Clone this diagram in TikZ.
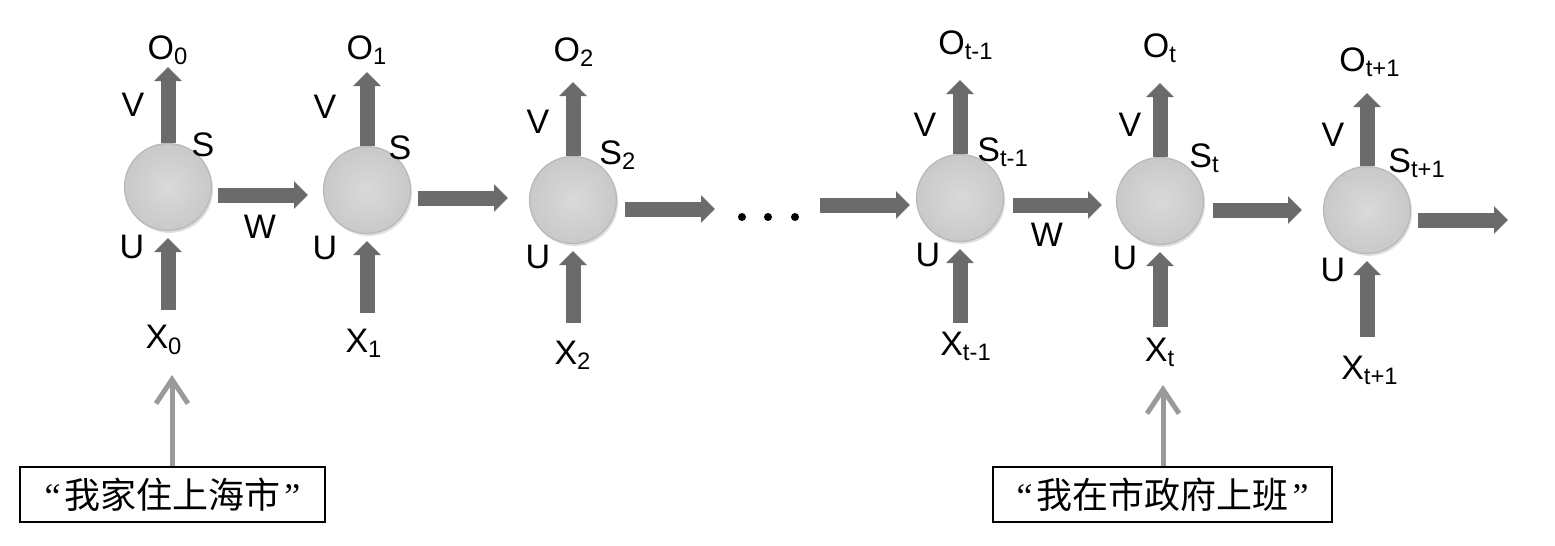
\documentclass[tikz,border=0pt]{standalone}
\usepackage{fontspec}
\setmainfont{Liberation Sans}
\newfontfamily\cjk{Noto Sans CJK SC}
\newfontfamily\serifq{Liberation Serif}
\usetikzlibrary{arrows.meta,shadows}
\definecolor{arrowgray}{HTML}{6B6B6B}
\definecolor{cellfill}{HTML}{C9C9C9}
\definecolor{celledge}{HTML}{B8B8B8}
\definecolor{thingray}{HTML}{9A9A9A}
\tikzset{
  cell/.style={circle, minimum size=43.5pt, inner sep=0pt, draw=celledge, line width=0.6pt,
    inner color=cellfill!70!white, outer color=cellfill,
    drop shadow={opacity=0.25, shadow xshift=0.8pt, shadow yshift=-1.2pt}},
  bigarrow/.style={line width=7.5pt, draw=arrowgray, -{Triangle[length=7pt,width=13.5pt]}},
  lab/.style={font=\fontsize{17}{19}\selectfont, inner sep=0pt},
  sentbox/.style={draw=black, line width=1.2pt, minimum width=152.5pt, minimum height=27.5pt, inner sep=0pt,
    font=\fontsize{18}{20}\selectfont},
  thinarrow/.style={line width=2.5pt, draw=thingray, -{Straight Barb[length=12pt,width=16pt,line width=2.5pt]}},
  dotmark/.style={circle, fill=black, minimum size=4pt, inner sep=0pt}
}
\begin{document}
\begin{tikzpicture}[x=0.5pt,y=-0.5pt]
\useasboundingbox (0,0) rectangle (1555,546);

% ---------- cells ----------
\node[cell] (n0) at (168,187) {};
\node[cell] (n1) at (367,190) {};
\node[cell] (n2) at (573,200) {};
\node[cell] (n3) at (960,198) {};
\node[cell] (n4) at (1160,201) {};
\node[cell] (n5) at (1367,210) {};

% ---------- output labels and arrows ----------
\node[lab] (o0) at (168,50) {O\textsubscript{0}};
\node[lab] (o1) at (367,50) {O\textsubscript{1}};
\node[lab] (o2) at (574,52) {O\textsubscript{2}};
\node[lab] (o3) at (966,45) {O\textsubscript{t-1}};
\node[lab] (o4) at (1160,48) {O\textsubscript{t}};
\node[lab] (o5) at (1370,62) {O\textsubscript{t+1}};

\coordinate (o0t) at (168,67);
\coordinate (o1t) at (367,72);
\coordinate (o2t) at (573,82);
\coordinate (o3t) at (960,80);
\coordinate (o4t) at (1160,83);
\coordinate (o5t) at (1367,93);

\foreach \i in {0,...,5} {
  \draw[bigarrow] (n\i.north) -- (o\i t);
}

% ---------- input labels and arrows ----------
\node[lab] (x0) at (164,340) {X\textsubscript{0}};
\node[lab] (x1) at (364,343) {X\textsubscript{1}};
\node[lab] (x2) at (573,355) {X\textsubscript{2}};
\node[lab] (x3) at (966,346) {X\textsubscript{t-1}};
\node[lab] (x4) at (1160,352) {X\textsubscript{t}};
\node[lab] (x5) at (1370,370) {X\textsubscript{t+1}};

\coordinate (x0s) at (168,310);
\coordinate (x1s) at (367,313);
\coordinate (x2s) at (573,323);
\coordinate (x3s) at (960,323);
\coordinate (x4s) at (1160,327);
\coordinate (x5s) at (1367,337);

\draw[bigarrow] (x0s) -- ([yshift=-3.5pt]n0.south);
\draw[bigarrow] (x1s) -- ([yshift=-3.5pt]n1.south);
\draw[bigarrow] (x2s) -- ([yshift=-3.5pt]n2.south);
\draw[bigarrow] (x3s) -- ([yshift=-3.5pt]n3.south);
\draw[bigarrow] (x4s) -- ([yshift=-3.5pt]n4.south);
\draw[bigarrow] (x5s) -- ([yshift=-3.5pt]n5.south);

% ---------- V / U / S labels ----------
\node[lab] (v0) at (133,105) {V};
\node[lab] (v1) at (325,107) {V};
\node[lab] (v2) at (538,122) {V};
\node[lab] (v3) at (925,125) {V};
\node[lab] (v4) at (1130,125) {V};
\node[lab] (v5) at (1333,135) {V};

\node[lab] (u0) at (132,247) {U};
\node[lab] (u1) at (325,248) {U};
\node[lab] (u2) at (538,257) {U};
\node[lab] (u3) at (928,255) {U};
\node[lab] (u4) at (1125,258) {U};
\node[lab] (u5) at (1333,270) {U};

\node[lab] (s0) at (203,145) {S};
\node[lab] (s1) at (400,148) {S};
\node[lab, anchor=west] (s2) at (599,155) {S\textsubscript{2}};
\node[lab, anchor=west] (s3) at (977,152) {S\textsubscript{t-1}};
\node[lab, anchor=west] (s4) at (1189,158) {S\textsubscript{t}};
\node[lab, anchor=west] (s5) at (1388,163) {S\textsubscript{t+1}};

% ---------- recurrent arrows ----------
\coordinate (w0s) at (218,195);  \coordinate (w0e) at (308,195);
\coordinate (w1s) at (418,198);  \coordinate (w1e) at (508,198);
\coordinate (w2s) at (625,209);  \coordinate (w2e) at (715,209);
\coordinate (w3s) at (820,205);  \coordinate (w3e) at (910,205);
\coordinate (w4s) at (1013,205); \coordinate (w4e) at (1102,205);
\coordinate (w5s) at (1213,210); \coordinate (w5e) at (1302,210);
\coordinate (w6s) at (1418,220); \coordinate (w6e) at (1508,220);
\foreach \i in {0,...,6} {
  \draw[bigarrow] (w\i s) -- (w\i e);
}
\node[lab] (wl0) at (260,227) {W};
\node[lab] (wl1) at (1047,235) {W};

% ---------- ellipsis ----------
\node[dotmark] (d1) at (742,217) {};
\node[dotmark] (d2) at (768,217) {};
\node[dotmark] (d3) at (795,217) {};

% ---------- sentences ----------
\node[sentbox] (b0) at (172.5,494.5) {{\serifq “}\hspace{2pt}{\cjk 我家住上海市}\hspace{2pt}{\serifq ”}};
\node[sentbox, minimum width=169.5pt] (b1) at (1162.5,494.5) {{\serifq “}\hspace{2pt}{\cjk 我在市政府上班}\hspace{2pt}{\serifq ”}};
\coordinate (b0t) at (172,375);
\coordinate (b1t) at (1163,385);
\draw[thinarrow] (b0.north -| b0t) -- (b0t);
\draw[thinarrow] (b1.north -| b1t) -- (b1t);
\end{tikzpicture}
\end{document}
